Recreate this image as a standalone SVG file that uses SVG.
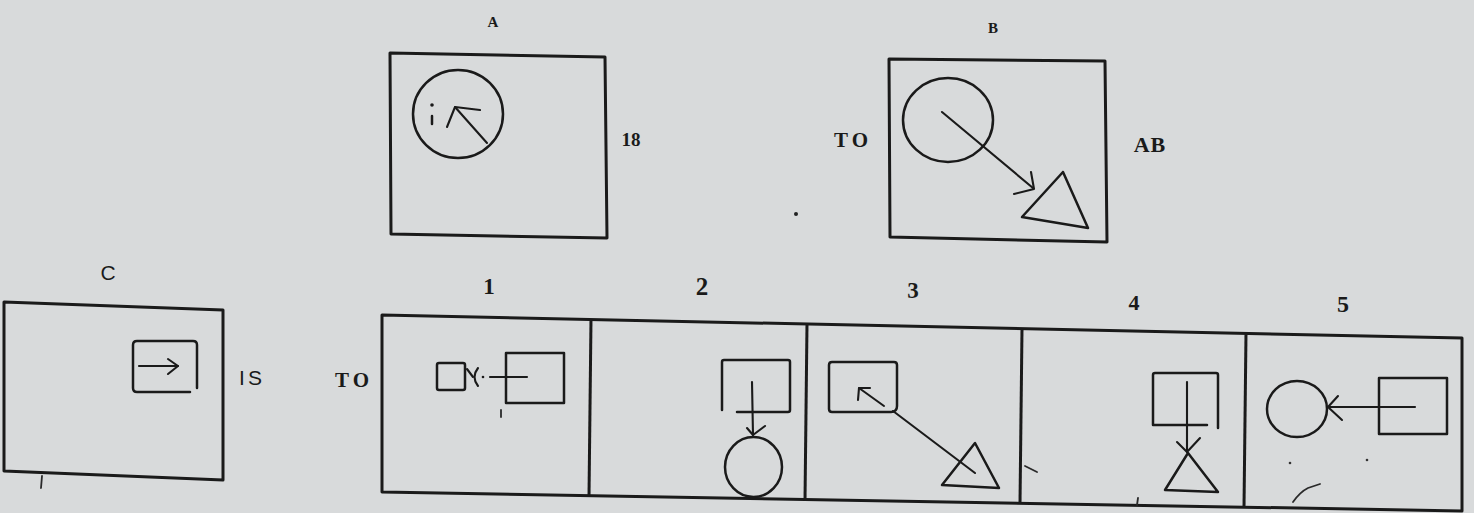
<svg xmlns="http://www.w3.org/2000/svg" width="1474" height="513" viewBox="0 0 1474 513">
<style>
.bg{fill:#d8dadb}
.frame{fill:none;stroke:#1a1a1a;stroke-width:3;stroke-linejoin:round}
.shape{fill:none;stroke:#1a1a1a;stroke-width:2.5;stroke-linejoin:round;stroke-linecap:round}
.conn{fill:none;stroke:#1a1a1a;stroke-width:2.1;stroke-linecap:round;stroke-linejoin:round}
.tick{fill:none;stroke:#2a2a2a;stroke-width:1.8;stroke-linecap:round}
.lbl{font-family:"Liberation Serif","DejaVu Serif",serif;fill:#1a1a1a;font-size:21px;font-weight:bold;text-anchor:middle}
.thin{font-family:"Liberation Sans","DejaVu Sans",sans-serif;font-weight:normal}
.num{font-size:23px}
</style>
<rect class="bg" x="0" y="0" width="1474" height="513"/>

<g id="labels">
<text class="lbl" x="493" y="27" style="font-size:15px">A</text>
<text class="lbl" x="993" y="33" style="font-size:15px">B</text>
<text class="lbl" x="631" y="146" style="font-size:19px">18</text>
<text class="lbl" x="853" y="147" letter-spacing="4">TO</text>
<text class="lbl" x="1150" y="152" letter-spacing="1" style="font-size:22px">AB</text>
<text class="lbl thin" x="108" y="280">C</text>
<text class="lbl thin" x="252" y="385" letter-spacing="3">IS</text>
<text class="lbl" x="354" y="387" letter-spacing="4">TO</text>
<text class="lbl num" x="489" y="294">1</text>
<text class="lbl num" x="702" y="295" style="font-size:25px">2</text>
<text class="lbl num" x="913" y="298">3</text>
<text class="lbl num" x="1134" y="310" style="font-size:22px">4</text>
<text class="lbl num" x="1343" y="312" style="font-size:24px">5</text>
</g>

<g id="panelA">
<polygon class="frame" points="390,53 605,57 607,238 391,234"/>
<ellipse class="shape" cx="458" cy="114" rx="45" ry="44"/>
<circle cx="432" cy="105" r="1.8" fill="#1a1a1a"/>
<line class="shape" x1="432" y1="116" x2="432" y2="124"/>
</g>

<g id="panelB">
<polygon class="frame" points="889,59 1105,61 1107,242 890,237"/>
<ellipse class="shape" cx="948" cy="120" rx="45" ry="42"/>
<polygon class="shape" points="1063,172 1022,217 1088,228"/>
</g>

<g id="panelC">
<polygon class="frame" points="4,302 223,310 223,480 4,471"/>
<path class="shape" d="M190,392 H137 Q133,392 133,388 V345 Q133,341 137,341 H193 Q197,341 197,345 V388"/>
<line class="tick" x1="42" y1="476" x2="41" y2="488"/>
</g>

<g id="options">
<g id="frames">
<path class="frame" d="M382,315 L1462,338 L1462,511 L382,492 Z"/>
<line class="frame" x1="591" y1="319" x2="589" y2="496"/>
<line class="frame" x1="807" y1="324" x2="805" y2="500"/>
<line class="frame" x1="1022" y1="329" x2="1020" y2="503"/>
<line class="frame" x1="1246" y1="333" x2="1244" y2="507"/>
</g>
<g id="option1">
<path class="shape" d="M439,363 H463 Q465,363 465,365 V388 Q465,390 463,390 H439 Q437,390 437,388 V365 Q437,363 439,363 Z"/>
<rect class="shape" x="506" y="353" width="58" height="50"/>
<line class="tick" x1="501" y1="410" x2="501" y2="417"/>
</g>
<g id="option2">
<path class="shape" d="M722,410 V362 Q722,360 724,360 H788 Q790,360 790,362 V410 Q790,412 788,412 H737"/>
<ellipse class="shape" cx="753.5" cy="467" rx="28.5" ry="30"/>
</g>
<g id="option3">
<path class="shape" d="M829,365 Q829,362 832,362 H894 Q897,362 897,365 V406 Q897,412 891,412 H832 Q829,412 829,409 Z"/>
<polygon class="shape" points="975,443 942,485 999,488"/>
<line class="tick" x1="1025" y1="466" x2="1037" y2="472"/>
</g>
<g id="option4">
<path class="shape" d="M1207,425 H1153 V375 Q1153,373 1155,373 H1216 Q1218,373 1218,375 V428"/>
<polygon class="shape" points="1188,453 1165,490 1218,492"/>
<line class="tick" x1="1138" y1="498" x2="1137" y2="505"/>
</g>
<g id="option5">
<ellipse class="shape" cx="1297" cy="409" rx="30" ry="28"/>
<rect class="shape" x="1379" y="378" width="68" height="56"/>
<path class="tick" d="M1293,502 Q1300,492 1308,488 L1320,484"/>
<circle cx="1290" cy="463" r="1.3" fill="#333"/>
<circle cx="1367" cy="460" r="1.3" fill="#333"/>
</g>
</g>

<circle cx="796" cy="214" r="2" fill="#222"/>

<g id="connectors">
<line class="conn" x1="487" y1="143" x2="455" y2="107"/>
<polyline class="conn" points="447,127 455,107 480,110"/>
<line class="conn" x1="942" y1="112" x2="1033" y2="188"/>
<polyline class="conn" points="1031,172 1034,189 1014,194"/>
<line class="conn" x1="139" y1="366" x2="178" y2="366"/>
<polyline class="conn" points="168,359 178,366 168,374"/>
<line class="conn" x1="490" y1="377" x2="527" y2="377"/>
<circle cx="483" cy="377" r="1.3" fill="#1a1a1a"/>
<path class="conn" d="M478,368 Q471,377 478,386"/>
<line class="conn" x1="467" y1="369" x2="473" y2="377"/>
<line class="conn" x1="752" y1="382" x2="753" y2="435"/>
<polyline class="conn" points="747,428 753,435 765,426"/>
<line class="conn" x1="884" y1="406" x2="859" y2="388"/>
<polyline class="conn" points="858,400 859,388 870,388"/>
<line class="conn" x1="893" y1="411" x2="975" y2="473"/>
<line class="conn" x1="1187" y1="382" x2="1187" y2="452"/>
<polyline class="conn" points="1177,442 1187,452 1200,438"/>
<line class="conn" x1="1415" y1="407" x2="1328" y2="407"/>
<polyline class="conn" points="1338,396 1328,407 1342,420"/>
</g>
</svg>
